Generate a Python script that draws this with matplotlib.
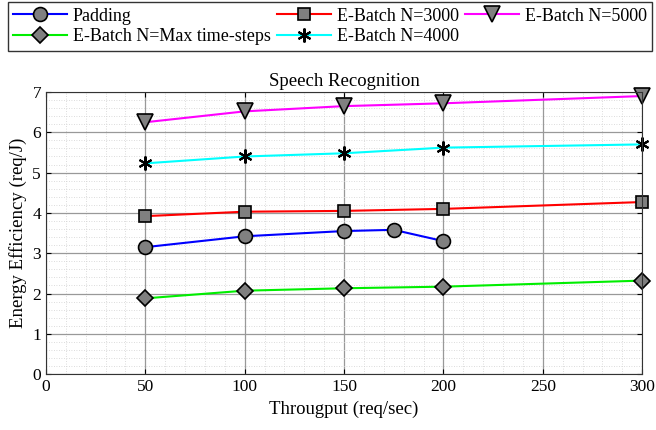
import matplotlib
matplotlib.use("Agg")
import matplotlib.pyplot as plt
from matplotlib.ticker import MultipleLocator

plt.rcParams["font.family"] = ["Liberation Serif", "DejaVu Serif"]

x_pad = [50, 100, 150, 175, 200]
y_pad = [3.15, 3.42, 3.55, 3.58, 3.30]

x_eb = [50, 100, 150, 200, 300]
y_max = [1.88, 2.07, 2.13, 2.17, 2.32]
y_3000 = [3.92, 4.03, 4.05, 4.10, 4.27]
y_4000 = [5.23, 5.40, 5.48, 5.62, 5.70]
y_5000 = [6.25, 6.52, 6.65, 6.72, 6.90]

fig = plt.figure(figsize=(6.56, 4.30), dpi=100)
ax = fig.add_axes([0.070, 0.130, 0.909, 0.656])

mk = dict(markerfacecolor="#808080", markeredgecolor="black", markeredgewidth=1.2, clip_on=False)
h_pad, = ax.plot(x_pad, y_pad, color="blue", marker="o", markersize=10, lw=1.5, label="Padding", **mk)
h_max, = ax.plot(x_eb, y_max, color="#00ee00", marker="D", markersize=8, lw=1.5,
                 label="E-Batch N=Max time-steps", **mk)
h_3000, = ax.plot(x_eb, y_3000, color="red", marker="s", markersize=8, lw=1.5, label="E-Batch N=3000", **mk)
h_4000, = ax.plot(x_eb, y_4000, color="cyan", marker=(6, 2, 0), markersize=10, lw=1.5,
                  label="E-Batch N=4000", markeredgecolor="black", markeredgewidth=1.5, clip_on=False)
h_5000, = ax.plot(x_eb, y_5000, color="magenta", marker="v", markersize=11, lw=1.5,
                  label="E-Batch N=5000", **mk)

ax.set_xlim(0, 300)
ax.set_ylim(0, 7)
ax.xaxis.set_major_locator(MultipleLocator(50))
ax.xaxis.set_minor_locator(MultipleLocator(10))
ax.yaxis.set_major_locator(MultipleLocator(1))
ax.yaxis.set_minor_locator(MultipleLocator(0.2))
ax.grid(which="major", color="#999999", lw=0.9)
ax.grid(which="minor", color="#d0d0d0", lw=0.6, linestyle=(0, (1, 2)))
ax.set_axisbelow(True)
ax.tick_params(which="both", direction="in", top=True, right=True, labelsize=12.5)
ax.tick_params(which="minor", length=0)
for s in ax.spines.values():
    s.set_color("#333333")

ax.set_title("Speech Recognition", fontsize=13.5, pad=4)
ax.set_xlabel("Througput (req/sec)", fontsize=13.5)
ax.set_ylabel("Energy Efficiency (req/J)", fontsize=13.5)

handles = [h_pad, h_max, h_3000, h_4000, h_5000]
fig.legend(handles=handles, labels=[h.get_label() for h in handles], ncol=3,
           loc="upper left", bbox_to_anchor=(0.012, 0.995, 0.982, 0.0), mode="expand",
           borderaxespad=0, fontsize=13, frameon=True, fancybox=False, edgecolor="black",
           handlelength=3.0, handletextpad=0.3, borderpad=0.3, labelspacing=0.2,
           columnspacing=0.5)

fig.savefig("out.png", dpi=100)
